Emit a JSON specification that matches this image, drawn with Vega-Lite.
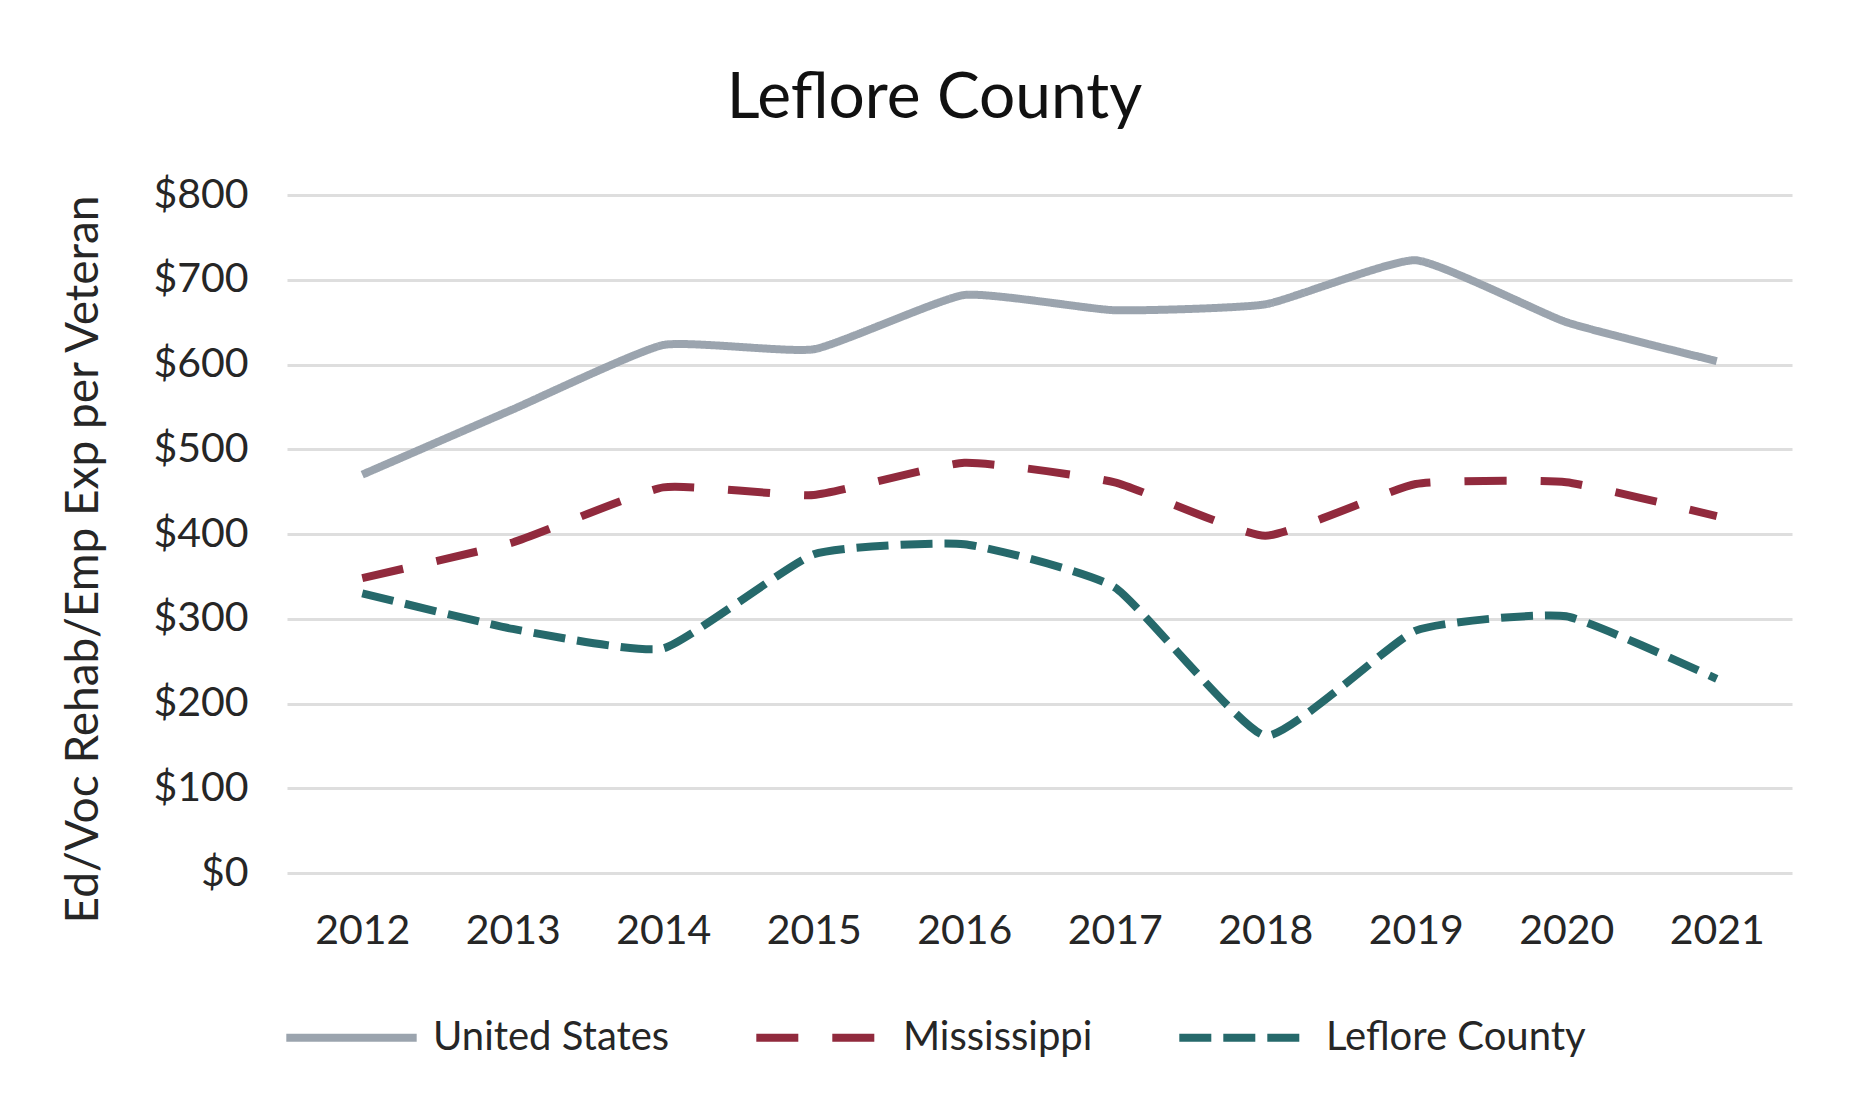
{
  "$schema": "https://vega.github.io/schema/vega-lite/v6.json",
  "autosize": {"type": "none"},
  "width": 1505,
  "height": 678,
  "padding": {"left": 287, "top": 195, "right": 63, "bottom": 236},
  "background": "#ffffff",
  "config": {
    "font": "Lato",
    "view": {"stroke": null},
    "axis": {"labelFont": "Lato", "titleFont": "Lato", "labelColor": "#262626", "titleColor": "#262626"}
  },
  "title": {
    "text": "Leflore County",
    "font": "Lato",
    "fontSize": 64,
    "fontWeight": "normal",
    "color": "#111111",
    "anchor": "middle",
    "dx": -105,
    "offset": 43
  },
  "data": {
    "values": [
      {"year": "2012", "series": "United States", "value": 470},
      {"year": "2013", "series": "United States", "value": 547},
      {"year": "2014", "series": "United States", "value": 623},
      {"year": "2015", "series": "United States", "value": 618},
      {"year": "2016", "series": "United States", "value": 682},
      {"year": "2017", "series": "United States", "value": 664},
      {"year": "2018", "series": "United States", "value": 671},
      {"year": "2019", "series": "United States", "value": 723},
      {"year": "2020", "series": "United States", "value": 650},
      {"year": "2021", "series": "United States", "value": 604},
      {"year": "2012", "series": "Mississippi", "value": 348},
      {"year": "2013", "series": "Mississippi", "value": 390},
      {"year": "2014", "series": "Mississippi", "value": 455},
      {"year": "2015", "series": "Mississippi", "value": 446},
      {"year": "2016", "series": "Mississippi", "value": 484},
      {"year": "2017", "series": "Mississippi", "value": 461},
      {"year": "2018", "series": "Mississippi", "value": 398},
      {"year": "2019", "series": "Mississippi", "value": 459},
      {"year": "2020", "series": "Mississippi", "value": 461},
      {"year": "2021", "series": "Mississippi", "value": 421},
      {"year": "2012", "series": "Leflore County", "value": 330},
      {"year": "2013", "series": "Leflore County", "value": 288},
      {"year": "2014", "series": "Leflore County", "value": 265},
      {"year": "2015", "series": "Leflore County", "value": 376},
      {"year": "2016", "series": "Leflore County", "value": 388},
      {"year": "2017", "series": "Leflore County", "value": 337},
      {"year": "2018", "series": "Leflore County", "value": 162},
      {"year": "2019", "series": "Leflore County", "value": 286},
      {"year": "2020", "series": "Leflore County", "value": 303},
      {"year": "2021", "series": "Leflore County", "value": 229}
    ]
  },
  "mark": {"type": "line", "strokeWidth": 8, "interpolate": "cardinal", "tension": 0.55, "strokeCap": "butt"},
  "encoding": {
    "x": {
      "field": "year",
      "type": "ordinal",
      "scale": {"type": "point", "padding": 0.5},
      "axis": {
        "title": null,
        "labelAngle": 0,
        "labelFontSize": 41,
        "labelPadding": 38,
        "ticks": false,
        "domain": false,
        "grid": false
      }
    },
    "y": {
      "field": "value",
      "type": "quantitative",
      "scale": {"domain": [0, 800], "nice": false, "zero": true},
      "axis": {
        "title": "Ed/Voc Rehab/Emp Exp per Veteran",
        "titleFontSize": 46,
        "titleFontWeight": "normal",
        "titleX": -204,
        "titleY": 364,
        "titleAngle": -90,
        "titleAlign": "center",
        "titleBaseline": "middle",
        "values": [0, 100, 200, 300, 400, 500, 600, 700, 800],
        "format": "$.0f",
        "labelFontSize": 41,
        "labelPadding": 39,
        "ticks": false,
        "domain": false,
        "grid": true,
        "gridColor": "#DEDEDE",
        "gridWidth": 3
      }
    },
    "color": {
      "field": "series",
      "type": "nominal",
      "scale": {
        "domain": ["United States", "Mississippi", "Leflore County"],
        "range": ["#9BA4AE", "#912A3D", "#26696B"]
      },
      "legend": {
        "title": null,
        "orient": "none",
        "direction": "horizontal",
        "legendX": -5,
        "legendY": 773,
        "symbolType": "stroke",
        "symbolSize": 17000,
        "symbolStrokeWidth": 8,
        "labelFontSize": 40,
        "labelFont": "Lato",
        "labelColor": "#262626",
        "labelOffset": 12,
        "columnPadding": 70,
        "labelLimit": 400
      }
    },
    "strokeDash": {
      "field": "series",
      "type": "nominal",
      "scale": {
        "domain": ["United States", "Mississippi", "Leflore County"],
        "range": [[1, 0], [42, 34], [32, 12]]
      },
      "legend": null
    }
  }
}
